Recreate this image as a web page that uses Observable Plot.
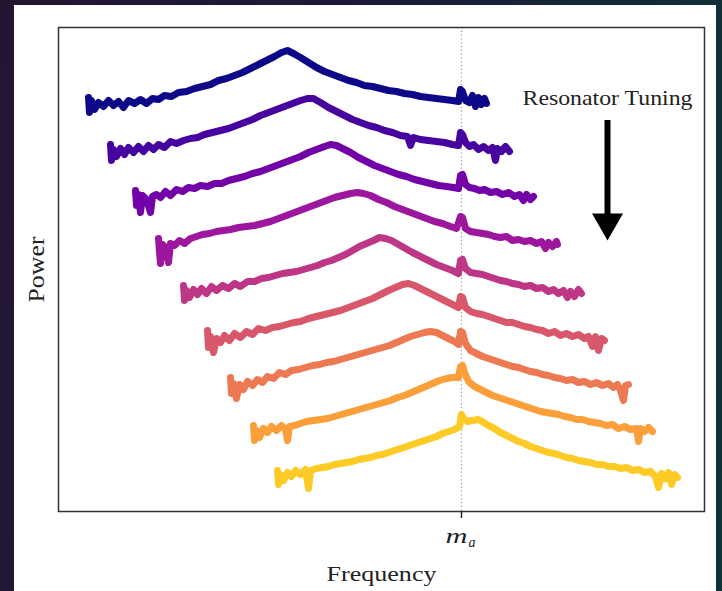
<!DOCTYPE html>
<html><head><meta charset="utf-8">
<script src="https://cdn.jsdelivr.net/npm/d3@7"></script>
<script src="https://cdn.jsdelivr.net/npm/@observablehq/plot@0.6"></script>
<style>
html,body{margin:0;padding:0;}
body{width:722px;height:591px;overflow:hidden;position:relative;background:linear-gradient(100deg,#241633 0%,#1b1a38 45%,#0c3436 100%);}
#panel{position:absolute;left:14px;top:5px;width:702px;height:586px;background:#fff;}
#panel svg{display:block;}
</style></head><body><div id="panel"></div>
<script>
// Frequency offset from m_a (arbitrary units) and power (arbitrary units, stacked)
const step1 = [[-373,414],[-372,399],[-370,411],[-367,402],[-363,409],[-358,405],[-353,411],[-348,406],[-343,410],[-338,404],[-333,411],[-327,408],[-321,412],[-315,408],[-309,413],[-303,412],[-297,416],[-290,415],[-283,419],[-275,420],[-267,423],[-259,425],[-251,427],[-243,431],[-235,433],[-227,436],[-219,439],[-211,443],[-203,447],[-195,451],[-187,455],[-180,459],[-174,461],[-168,458],[-161,454],[-153,449],[-145,444],[-137,440],[-129,437],[-121,434],[-113,431],[-105,429],[-97,426],[-89,425],[-81,423],[-73,421],[-65,420],[-57,418],[-49,417],[-41,415],[-33,414],[-25,413],[-17,412],[-9,411],[-3,410],[-1,422],[1,420],[4,411],[8,409],[11,416],[14,405],[17,414],[20,407],[23,413],[25,408]];
const step2 = [[-351,367],[-350,351],[-348,362],[-345,355],[-341,363],[-337,357],[-333,364],[-328,359],[-323,365],[-318,360],[-313,366],[-308,362],[-303,367],[-297,364],[-291,370],[-285,368],[-278,371],[-271,373],[-264,374],[-257,377],[-249,379],[-241,381],[-233,383],[-225,386],[-217,389],[-209,392],[-201,396],[-193,399],[-185,402],[-177,405],[-169,408],[-161,411],[-154,413],[-148,413],[-141,409],[-133,404],[-125,400],[-117,396],[-109,392],[-101,389],[-93,386],[-85,384],[-77,381],[-69,379],[-61,376],[-54,375],[-51,366],[-48,374],[-41,372],[-33,371],[-25,370],[-17,369],[-9,367],[-3,366],[-1,379],[1,377],[4,369],[8,365],[12,367],[17,362],[22,365],[27,361],[31,364],[34,351],[36,363],[40,360],[44,365],[48,360]];
const step3 = [[-326,321],[-325,306],[-323,317],[-321,299],[-319,316],[-315,312],[-311,299],[-309,315],[-305,317],[-301,314],[-296,320],[-291,316],[-285,322],[-279,320],[-273,324],[-267,323],[-261,326],[-254,325],[-247,328],[-240,328],[-233,331],[-225,333],[-217,335],[-209,338],[-201,340],[-193,343],[-185,346],[-177,349],[-169,352],[-161,355],[-153,359],[-145,362],[-137,365],[-131,367],[-125,366],[-119,363],[-111,359],[-103,354],[-95,350],[-87,346],[-79,343],[-71,340],[-63,337],[-55,335],[-47,332],[-39,330],[-31,328],[-23,326],[-15,325],[-8,324],[-3,323],[-1,336],[1,337],[4,327],[8,324],[13,323],[18,321],[23,322],[29,319],[35,320],[41,317],[47,319],[53,315],[58,317],[62,311],[65,317],[69,312],[72,315]];
const step4 = [[-303,273],[-302,259],[-301,248],[-299,267],[-296,264],[-293,249],[-291,268],[-287,266],[-282,271],[-277,268],[-271,273],[-265,275],[-259,277],[-252,278],[-245,280],[-238,281],[-231,282],[-223,284],[-215,285],[-207,286],[-199,288],[-191,290],[-183,293],[-175,296],[-167,299],[-159,302],[-151,305],[-143,308],[-135,311],[-127,314],[-119,316],[-111,318],[-104,319],[-98,318],[-91,316],[-83,312],[-75,309],[-67,305],[-59,302],[-51,299],[-43,296],[-35,293],[-27,290],[-19,288],[-11,285],[-5,283],[-1,295],[1,294],[4,283],[9,280],[15,279],[21,278],[27,277],[33,275],[39,274],[45,275],[51,271],[57,272],[63,270],[69,271],[75,268],[80,270],[84,263],[87,269],[91,265],[95,270],[96,267]];
const step5 = [[-278,226],[-277,211],[-275,221],[-272,214],[-268,222],[-264,217],[-260,223],[-255,218],[-250,225],[-245,221],[-239,226],[-233,223],[-227,228],[-221,225],[-214,230],[-207,230],[-200,233],[-193,234],[-186,236],[-179,238],[-172,239],[-165,240],[-158,242],[-151,244],[-144,246],[-137,249],[-130,251],[-123,254],[-116,257],[-109,261],[-102,265],[-95,268],[-88,271],[-82,274],[-76,273],[-70,271],[-63,267],[-56,263],[-49,259],[-41,255],[-33,251],[-25,247],[-17,244],[-9,241],[-3,238],[-1,251],[1,252],[4,243],[9,239],[15,238],[21,237],[27,235],[33,233],[39,231],[45,230],[51,228],[57,227],[63,225],[69,226],[75,223],[81,224],[87,220],[92,222],[97,218],[102,221],[106,214],[109,220],[113,215],[117,222],[120,218]];
const step6 = [[-254,181],[-253,164],[-251,175],[-248,159],[-245,173],[-241,169],[-237,176],[-232,171],[-227,178],[-221,174],[-215,180],[-209,177],[-203,183],[-196,181],[-189,184],[-182,185],[-175,187],[-168,189],[-161,190],[-153,193],[-145,195],[-137,197],[-129,199],[-121,201],[-113,204],[-105,207],[-97,210],[-89,213],[-81,217],[-73,221],[-66,224],[-59,227],[-53,228],[-47,226],[-41,223],[-33,219],[-25,215],[-17,211],[-9,207],[-3,204],[-1,215],[1,214],[4,204],[9,200],[15,198],[21,197],[27,195],[33,193],[39,191],[45,189],[51,189],[57,187],[63,185],[69,184],[75,182],[81,181],[87,178],[93,180],[99,176],[105,178],[111,175],[117,177],[123,173],[127,175],[131,165],[134,175],[137,161],[140,173],[143,171]];
const step7 = [[-231,134],[-230,118],[-228,128],[-225,113],[-222,127],[-218,122],[-214,130],[-209,126],[-204,132],[-199,129],[-194,135],[-188,133],[-182,139],[-176,137],[-170,141],[-163,142],[-156,144],[-149,146],[-142,147],[-135,149],[-128,150],[-121,152],[-114,154],[-107,156],[-100,158],[-93,160],[-86,162],[-79,164],[-72,166],[-65,169],[-58,172],[-51,175],[-44,177],[-37,179],[-31,180],[-25,179],[-19,176],[-13,173],[-7,170],[-3,167],[-1,180],[1,179],[4,168],[9,161],[15,158],[21,155],[27,153],[33,151],[39,149],[45,147],[51,145],[57,144],[63,142],[69,140],[75,139],[81,137],[87,136],[93,134],[99,133],[105,131],[111,132],[117,129],[123,130],[129,127],[135,129],[141,126],[147,128],[152,124],[156,127],[159,121],[162,111],[164,126],[167,127]];
const step8 = [[-208,86],[-207,71],[-205,81],[-202,74],[-198,83],[-194,79],[-190,85],[-185,81],[-180,86],[-176,82],[-174,71],[-172,85],[-167,86],[-161,88],[-155,90],[-148,91],[-141,92],[-134,93],[-127,95],[-120,97],[-113,99],[-106,101],[-99,103],[-92,105],[-85,107],[-78,109],[-71,111],[-64,114],[-57,116],[-50,119],[-43,122],[-36,125],[-29,128],[-22,131],[-15,133],[-9,134],[-3,134],[-1,145],[1,146],[3,139],[7,130],[13,125],[19,122],[25,119],[31,116],[37,114],[43,112],[49,110],[55,108],[61,106],[67,104],[73,102],[79,100],[85,99],[91,98],[97,97],[103,95],[109,94],[115,92],[121,92],[127,90],[133,89],[139,88],[145,86],[151,87],[157,83],[163,85],[169,82],[175,83],[177,70],[179,83],[183,80],[187,84],[191,80]];
const step9 = [[-184,41],[-183,27],[-181,37],[-178,31],[-174,39],[-170,35],[-166,41],[-161,37],[-156,42],[-153,23],[-151,41],[-145,43],[-139,44],[-133,45],[-127,47],[-121,48],[-115,49],[-109,50],[-103,52],[-97,53],[-91,54],[-85,56],[-79,57],[-73,59],[-67,61],[-61,63],[-55,65],[-49,67],[-43,69],[-37,71],[-31,73],[-25,75],[-19,78],[-13,80],[-7,82],[-2,85],[0,97],[2,93],[6,90],[11,91],[17,92],[22,89],[27,86],[33,83],[39,79],[45,76],[51,73],[57,70],[63,68],[69,65],[75,63],[81,61],[87,59],[93,58],[99,56],[105,54],[111,53],[117,51],[123,50],[129,49],[135,47],[141,47],[147,45],[153,45],[159,43],[165,44],[171,41],[177,42],[183,39],[189,40],[194,35],[197,24],[200,38],[204,33],[207,39],[210,27],[213,37],[216,34]];

const tuningSteps = [1, 2, 3, 4, 5, 6, 7, 8, 9];
const spectra = [step1, step2, step3, step4, step5, step6, step7, step8, step9];
const axionMass = 0;            // m_a
const frequencyDomain = [-403, 243];
const powerDomain = [0, 484];
const xLabel = "Frequency";
const yLabel = "Power";
const tickLabel = ["m", "a"];
const tuningLabel = "Resonator Tuning";
const tuningLabelAt = [146, 413];
const arrowAt = 146, arrowFrom = 391, arrowHead = 289;

const table = spectra.flatMap((s, i) => s.map(([frequency, power]) => ({step: tuningSteps[i], frequency, power})));

const serif = "'Liberation Serif', 'Times New Roman', serif";
const plot = Plot.plot({
  width: 702, height: 586,
  marginLeft: 44, marginRight: 12, marginTop: 22, marginBottom: 80,
  x: {domain: frequencyDomain},
  y: {domain: powerDomain, axis: null},
  color: {type: "linear", scheme: "plasma", domain: [1, 10]},
  style: {background: "transparent", fontFamily: serif, color: "#222"},
  marks: [
    Plot.ruleX([axionMass], {stroke: "#9a9a9a", strokeWidth: 1.2, strokeDasharray: "1.2,2.6"}),
    Plot.line(table, {x: "frequency", y: "power", z: "step", stroke: "step", strokeWidth: 7, strokeLinejoin: "round", strokeLinecap: "round"}),
    Plot.frame({stroke: "#333", strokeWidth: 1.5}),
    Plot.axisX({ticks: [axionMass], tickSize: 7, tickFormat: () => "", label: null, strokeWidth: 1.5, stroke: "#222"}),
    Plot.text([tickLabel[0]], {x: axionMass, frameAnchor: "bottom", lineAnchor: "middle", textAnchor: "middle", dy: 25, dx: -5, fontSize: 20, fontStyle: "italic", fill: "#222"}),
    Plot.text([tickLabel[1]], {x: axionMass, frameAnchor: "bottom", lineAnchor: "middle", textAnchor: "middle", dy: 31.5, dx: 10.5, fontSize: 14, fontStyle: "italic", fill: "#222"}),
    Plot.text([xLabel], {frameAnchor: "bottom", lineAnchor: "middle", textAnchor: "middle", dy: 63, fontSize: 20, fill: "#222"}),
    Plot.text([yLabel], {frameAnchor: "left", lineAnchor: "middle", textAnchor: "middle", dx: -22, rotate: -90, fontSize: 23, fill: "#222"}),
    Plot.text([tuningLabel], {x: tuningLabelAt[0], y: tuningLabelAt[1], lineAnchor: "middle", textAnchor: "middle", fontSize: 21, fill: "#222"}),
    Plot.ruleX([arrowAt], {y1: arrowFrom, y2: arrowHead + 6, stroke: "black", strokeWidth: 6}),
    Plot.dot([arrowAt], {x: d => d, y: arrowHead, symbol: "triangle", r: 11.5, fill: "black", stroke: "none", rotate: 180})
  ]
});

// widen the serif labels to the reference's (Computer Modern–like, horizontally stretched) widths
const stretch = (content, len) => d3.select(plot).selectAll("text")
  .filter(function () { return this.textContent === content; })
  .attr("textLength", len).attr("lengthAdjust", "spacingAndGlyphs");
stretch(xLabel, 110);
stretch(yLabel, 66);
stretch(tuningLabel, 170);
stretch(tickLabel[0], 22);

document.getElementById("panel").appendChild(plot);
</script>
</body></html>
